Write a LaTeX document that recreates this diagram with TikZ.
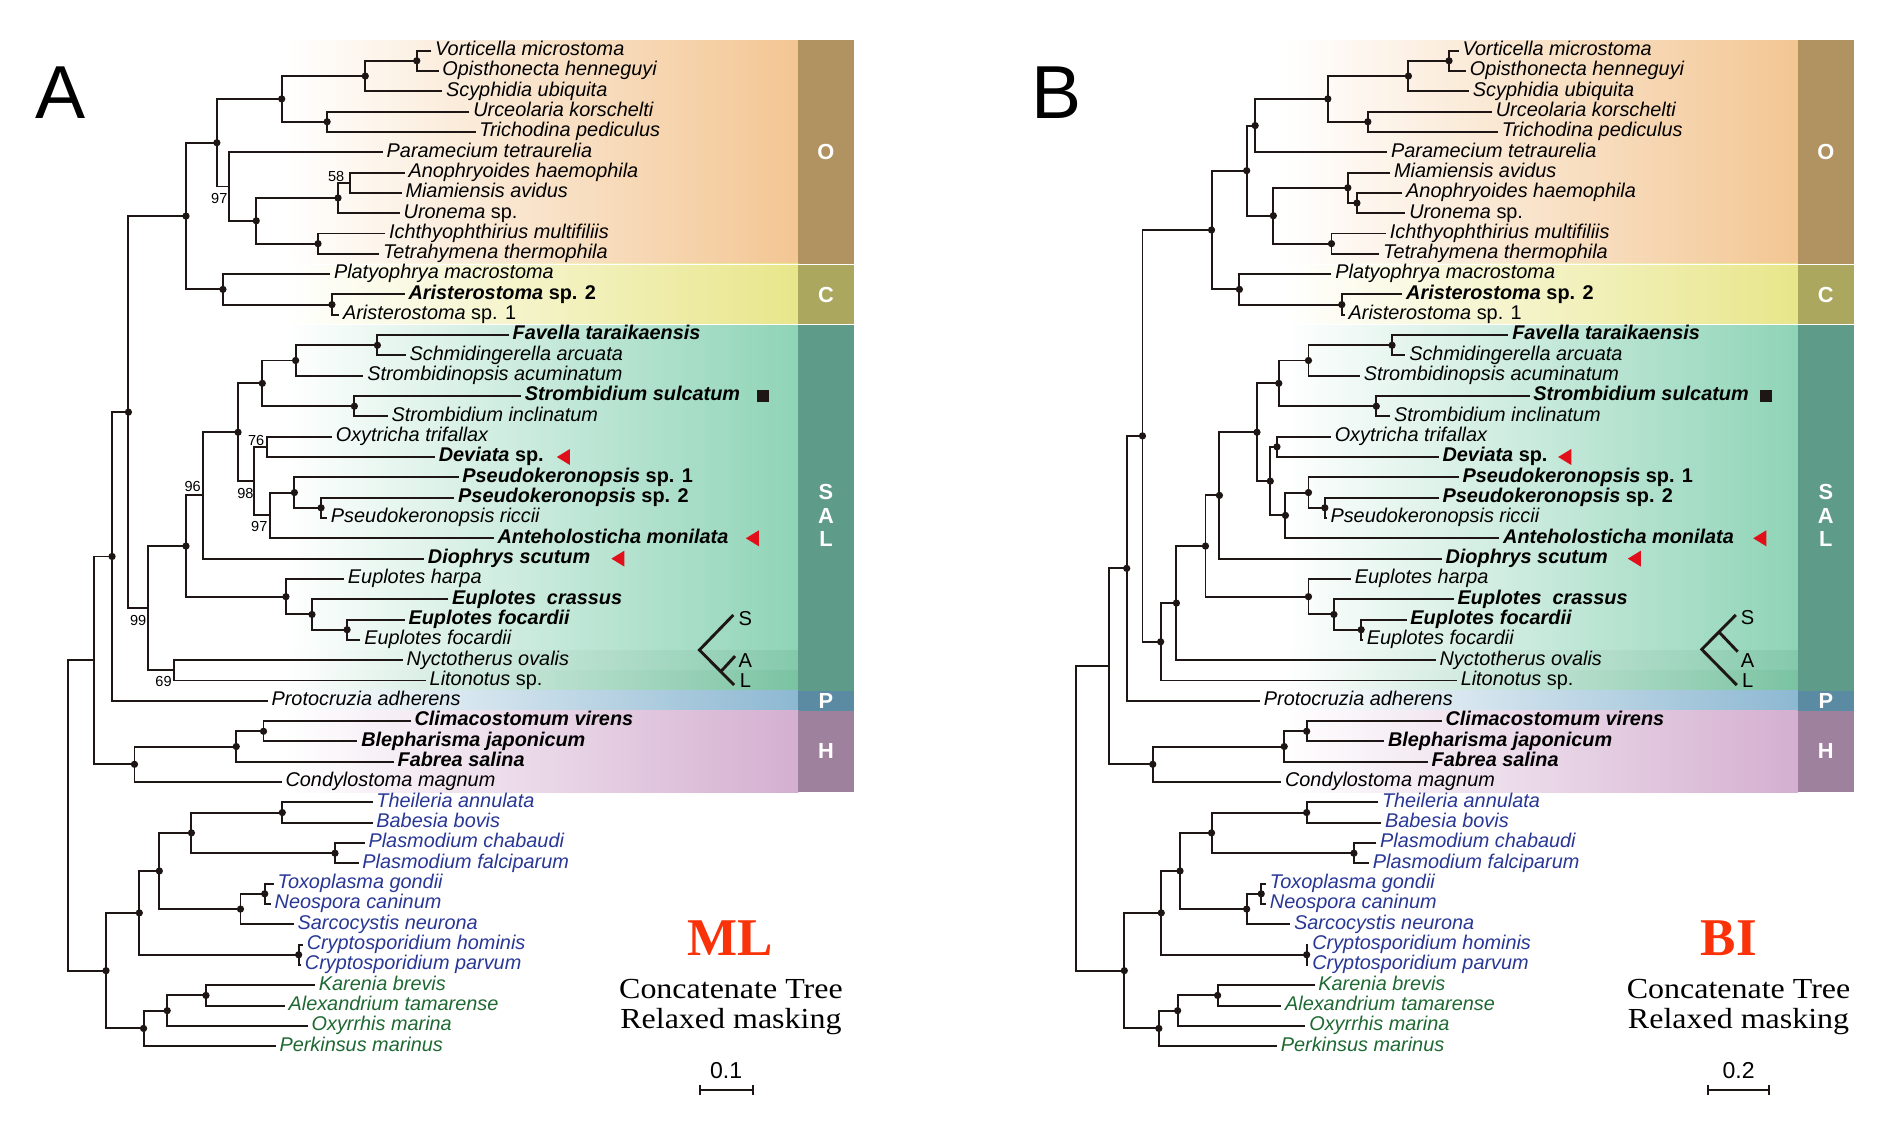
\documentclass[tikz,border=0pt]{standalone}
\usepackage{fontspec}
\setmainfont{Liberation Sans}
\newfontfamily\serifnt{Liberation Serif}
\usepackage{graphicx}

\definecolor{linec}{RGB}{30,22,20}
\definecolor{Ograd}{RGB}{243,198,147}
\definecolor{Obar}{RGB}{176,147,96}
\definecolor{Cgrad}{RGB}{232,230,138}
\definecolor{Cbar}{RGB}{171,167,94}
\definecolor{Sgrad}{RGB}{143,212,183}
\definecolor{Sbar}{RGB}{95,155,137}
\definecolor{Agrad}{RGB}{132,201,171}
\definecolor{Lgrad}{RGB}{122,195,162}
\definecolor{Pgrad}{RGB}{141,184,210}
\definecolor{Pbar}{RGB}{91,139,163}
\definecolor{Hgrad}{RGB}{212,175,208}
\definecolor{Hbar}{RGB}{158,129,157}
\definecolor{apiblue}{RGB}{40,55,150}
\definecolor{dinogreen}{RGB}{30,105,50}
\definecolor{mlred}{RGB}{250,50,10}
\definecolor{trired}{RGB}{225,15,25}

\newcommand{\kids}[3]{\draw[brl] (#2) -| (#1.center) |- (#3);}
\newcommand{\rtri}[3]{\node[inner sep=0pt,minimum width=5pt,minimum height=6.2pt] (#1) at (#2,#3) {};
  \fill[trired] (#1.west) -- (#1.north east) -- (#1.south east) -- cycle;}

\begin{document}
\begin{tikzpicture}[x=0.5pt,y=-0.5pt,
  lab/.style={anchor=west,inner xsep=1.4pt,inner ysep=0pt,text height=4pt,text depth=0pt,
    font=\fontsize{8.2}{9}\selectfont\itshape},
  labb/.style={lab,font=\fontsize{8.2}{9}\selectfont\bfseries\itshape},
  api/.style={lab,text=apiblue},
  dino/.style={lab,text=dinogreen},
  ndot/.style={circle,fill=linec,inner sep=0pt,minimum size=3pt},
  brl/.style={draw=linec,line width=0.8pt},
  boot/.style={inner sep=0pt,font=\fontsize{6}{6}\selectfont},
  bandlab/.style={inner sep=0pt,text=white,font=\fontsize{9}{9}\selectfont\bfseries},
  glyl/.style={inner sep=0pt,font=\fontsize{8.3}{9}\selectfont},
  gly/.style={draw=linec,line width=1.2pt},
  panel/.style={inner sep=0pt,font=\fontsize{31}{31}\selectfont},
  method/.style={anchor=base,text=mlred,font=\serifnt\bfseries\fontsize{21.9}{22}\selectfont},
  capt/.style={anchor=base,font=\serifnt\fontsize{12}{13}\selectfont},
  scl/.style={anchor=base,inner sep=0pt,font=\fontsize{9.5}{10}\selectfont},
  sbar/.style={draw=linec,line width=0.8pt}]
\useasboundingbox (0,0) rectangle (1560,931.07);
\fill[white] (0,0) rectangle (1560,931.07);

% ===================== bands (row units) =====================
\begin{scope}[y=-8.385pt,yshift=-12.515pt]
% panel A
\shade[left color=white,right color=Ograd] (235,0.5) rectangle (659,11.5);
\fill[Obar] (659,0.5) rectangle (704.5,11.5);
\shade[left color=white,right color=Cgrad] (235,11.5) rectangle (659,14.5);
\fill[Cbar] (659,11.5) rectangle (704.5,14.5);
\shade[left color=white,right color=Sgrad] (235,14.5) rectangle (659,30.5);
\shade[left color=white,right color=Agrad] (235,30.5) rectangle (659,31.5);
\shade[left color=white,right color=Lgrad] (235,31.5) rectangle (659,32.5);
\fill[Sbar] (659,14.5) rectangle (704.5,32.5);
\shade[left color=white,right color=Pgrad] (235,32.5) rectangle (659,33.5);
\fill[Pbar] (659,32.5) rectangle (704.5,33.5);
\shade[left color=white,right color=Hgrad] (235,33.5) rectangle (659,37.5);
\fill[Hbar] (659,33.5) rectangle (704.5,37.5);
\draw[white,line width=0.4pt] (235,11.5) -- (704.5,11.5) (235,14.5) -- (704.5,14.5);
% panel B
\shade[left color=white,right color=Ograd] (1060,0.5) rectangle (1484,11.5);
\fill[Obar] (1484,0.5) rectangle (1530,11.5);
\shade[left color=white,right color=Cgrad] (1060,11.5) rectangle (1484,14.5);
\fill[Cbar] (1484,11.5) rectangle (1530,14.5);
\shade[left color=white,right color=Sgrad] (1060,14.5) rectangle (1484,30.5);
\shade[left color=white,right color=Agrad] (1060,30.5) rectangle (1484,31.5);
\shade[left color=white,right color=Lgrad] (1060,31.5) rectangle (1484,32.5);
\fill[Sbar] (1484,14.5) rectangle (1530,32.5);
\shade[left color=white,right color=Pgrad] (1060,32.5) rectangle (1484,33.5);
\fill[Pbar] (1484,32.5) rectangle (1530,33.5);
\shade[left color=white,right color=Hgrad] (1060,33.5) rectangle (1484,37.5);
\fill[Hbar] (1484,33.5) rectangle (1530,37.5);
\draw[white,line width=0.4pt] (1060,11.5) -- (1530,11.5) (1060,14.5) -- (1530,14.5);

% ===================== tree A =====================
\node[lab] (ta1) at (356,1) {Vorticella microstoma};
\node[lab] (ta2) at (362,2) {Opisthonecta henneguyi};
\node[lab] (ta3) at (365,3) {Scyphidia ubiquita};
\node[lab] (ta4) at (387.5,4) {Urceolaria korschelti};
\node[lab] (ta5) at (392.5,5) {Trichodina pediculus};
\node[lab] (ta6) at (316,6) {Paramecium tetraurelia};
\node[lab] (ta7) at (334,7) {Anophryoides haemophila};
\node[lab] (ta8) at (331.5,8) {Miamiensis avidus};
\node[lab] (ta9) at (330,9) {Uronema \textup{sp.}};
\node[lab] (ta10) at (318,10) {Ichthyophthirius multifiliis};
\node[lab] (ta11) at (313,11) {Tetrahymena thermophila};
\node[lab] (ta12) at (272.5,12) {Platyophrya macrostoma};
\node[labb] (ta13) at (334,13) {Aristerostoma \textup{sp. 2}};
\node[lab] (ta14) at (280,14) {Aristerostoma \textup{sp. 1}};
\node[labb] (ta15) at (420,15) {Favella taraikaensis};
\node[lab] (ta16) at (335,16) {Schmidingerella arcuata};
\node[lab] (ta17) at (300,17) {Strombidinopsis acuminatum};
\node[labb] (ta18) at (430,18) {Strombidium sulcatum};
\node[lab] (ta19) at (320,19) {Strombidium inclinatum};
\node[lab] (ta20) at (274,20) {Oxytricha trifallax};
\node[labb] (ta21) at (359,21) {Deviata \textup{sp.}};
\node[labb] (ta22) at (378.5,22) {Pseudokeronopsis \textup{sp. 1}};
\node[labb] (ta23) at (375,23) {Pseudokeronopsis \textup{sp. 2}};
\node[lab] (ta24) at (270,24) {Pseudokeronopsis riccii};
\node[labb] (ta25) at (407.5,25) {Anteholosticha monilata};
\node[labb] (ta26) at (350,26) {Diophrys scutum};
\node[lab] (ta27) at (284,27) {Euplotes harpa};
\node[labb] (ta28) at (370,28) {Euplotes\hspace{0.55em}crassus};
\node[labb] (ta29) at (334,29) {Euplotes focardii};
\node[lab] (ta30) at (297.5,30) {Euplotes focardii};
\node[lab] (ta31) at (332.5,31) {Nyctotherus ovalis};
\node[lab] (ta32) at (351.5,32) {Litonotus \textup{sp.}};
\node[lab] (ta33) at (221,33) {Protocruzia adherens};
\node[labb] (ta34) at (339,34) {Climacostomum virens};
\node[labb] (ta35) at (295,35) {Blepharisma japonicum};
\node[labb] (ta36) at (325,36) {Fabrea salina};
\node[lab] (ta37) at (232.5,37) {Condylostoma magnum};
\node[api] (ta38) at (307.5,38) {Theileria annulata};
\node[api] (ta39) at (307.5,39) {Babesia bovis};
\node[api] (ta40) at (301,40) {Plasmodium chabaudi};
\node[api] (ta41) at (296,41) {Plasmodium falciparum};
\node[api] (ta42) at (226,42) {Toxoplasma gondii};
\node[api] (ta43) at (223.5,43) {Neospora caninum};
\node[api] (ta44) at (242.5,44) {Sarcocystis neurona};
\node[api] (ta45) at (250,45) {Cryptosporidium hominis};
\node[api] (ta46) at (248.5,46) {Cryptosporidium parvum};
\node[dino] (ta47) at (260,47) {Karenia brevis};
\node[dino] (ta48) at (235,48) {Alexandrium tamarense};
\node[dino] (ta49) at (254,49) {Oxyrrhis marina};
\node[dino] (ta50) at (227.5,50) {Perkinsus marinus};

\node[ndot] (a_vo) at (344,1.5) {};
\node[ndot] (a_vos) at (301.5,2.25) {};
\node[ndot] (a_ut) at (270,4.5) {};
\node[ndot] (a_peri) at (232.5,3.375) {};
\coordinate (a_58) at (289,7.5);
\node[ndot] (a_scu) at (279,8.25) {};
\node[ndot] (a_it) at (262.5,10.5) {};
\node[ndot] (a_hym) at (211.5,9.375) {};
\coordinate (a_97) at (189,7.6875);
\node[ndot] (a_oligo) at (179,5.53125) {};
\node[ndot] (a_ar) at (274,13.5) {};
\node[ndot] (a_col) at (184,12.75) {};
\node[ndot] (a_OC) at (153.5,9.1406) {};
\node[ndot] (a_fs) at (311.5,15.5) {};
\node[ndot] (a_fss) at (244,16.25) {};
\node[ndot] (a_str) at (292.5,18.5) {};
\node[ndot] (a_olig) at (216.5,17.375) {};
\coordinate (a_76) at (220,20.5);
\node[ndot] (a_ps2) at (265,23.5) {};
\node[ndot] (a_ps) at (243,22.75) {};
\coordinate (a_97b) at (222.5,23.875);
\coordinate (a_98) at (210,22.1875);
\node[ndot] (a_spiro) at (196.5,19.78125) {};
\coordinate (a_96) at (167.5,22.890625);
\node[ndot] (a_ef) at (286.5,29.5) {};
\node[ndot] (a_ecf) at (257.5,28.75) {};
\node[ndot] (a_eu) at (236,27.875) {};
\node[ndot] (a_sal) at (153.5,25.3828) {};
\coordinate (a_69) at (143.5,31.5);
\coordinate (a_99) at (122.5,28.4414);
\node[ndot] (a_ocsal) at (106,18.791) {};
\node[ndot] (a_cil1) at (92.5,25.8955) {};
\node[ndot] (a_cb) at (217.5,34.5) {};
\node[ndot] (a_cbf) at (195,35.25) {};
\node[ndot] (a_het) at (111,36.125) {};
\coordinate (a_cil) at (77.5,31.0103);
\node[ndot] (a_tb) at (233,38.5) {};
\node[ndot] (a_pl) at (276.5,40.5) {};
\node[ndot] (a_pir) at (158,39.5) {};
\node[ndot] (a_tn) at (218.5,42.5) {};
\node[ndot] (a_sarc) at (198.5,43.25) {};
\node[ndot] (a_coc) at (131.5,41.375) {};
\node[ndot] (a_cr) at (246.5,45.5) {};
\node[ndot] (a_api) at (115,43.4375) {};
\node[ndot] (a_ka) at (170,47.5) {};
\node[ndot] (a_dox) at (138,48.25) {};
\node[ndot] (a_din) at (118.5,49.125) {};
\node[ndot] (a_alv) at (87.5,46.28125) {};
\coordinate (a_root) at (56.5,38.6458);

\kids{a_vo}{ta1.west}{ta2.west}
\kids{a_vos}{a_vo.center}{ta3.west}
\kids{a_ut}{ta4.west}{ta5.west}
\kids{a_peri}{a_vos.center}{a_ut.center}
\kids{a_58}{ta7.west}{ta8.west}
\kids{a_scu}{a_58}{ta9.west}
\kids{a_it}{ta10.west}{ta11.west}
\kids{a_hym}{a_scu.center}{a_it.center}
\kids{a_97}{ta6.west}{a_hym.center}
\kids{a_oligo}{a_peri.center}{a_97}
\kids{a_ar}{ta13.west}{ta14.west}
\kids{a_col}{ta12.west}{a_ar.center}
\kids{a_OC}{a_oligo.center}{a_col.center}
\kids{a_fs}{ta15.west}{ta16.west}
\kids{a_fss}{a_fs.center}{ta17.west}
\kids{a_str}{ta18.west}{ta19.west}
\kids{a_olig}{a_fss.center}{a_str.center}
\kids{a_76}{ta20.west}{ta21.west}
\kids{a_ps2}{ta23.west}{ta24.west}
\kids{a_ps}{ta22.west}{a_ps2.center}
\kids{a_97b}{a_ps.center}{ta25.west}
\kids{a_98}{a_76}{a_97b}
\kids{a_spiro}{a_olig.center}{a_98}
\kids{a_96}{a_spiro.center}{ta26.west}
\kids{a_ef}{ta29.west}{ta30.west}
\kids{a_ecf}{ta28.west}{a_ef.center}
\kids{a_eu}{ta27.west}{a_ecf.center}
\kids{a_sal}{a_96}{a_eu.center}
\kids{a_69}{ta31.west}{ta32.west}
\kids{a_99}{a_sal.center}{a_69}
\kids{a_ocsal}{a_OC.center}{a_99}
\kids{a_cil1}{a_ocsal.center}{ta33.west}
\kids{a_cb}{ta34.west}{ta35.west}
\kids{a_cbf}{a_cb.center}{ta36.west}
\kids{a_het}{a_cbf.center}{ta37.west}
\kids{a_cil}{a_cil1.center}{a_het.center}
\kids{a_tb}{ta38.west}{ta39.west}
\kids{a_pl}{ta40.west}{ta41.west}
\kids{a_pir}{a_tb.center}{a_pl.center}
\kids{a_tn}{ta42.west}{ta43.west}
\kids{a_sarc}{a_tn.center}{ta44.west}
\kids{a_coc}{a_pir.center}{a_sarc.center}
\kids{a_cr}{ta45.west}{ta46.west}
\kids{a_api}{a_coc.center}{a_cr.center}
\kids{a_ka}{ta47.west}{ta48.west}
\kids{a_dox}{a_ka.center}{ta49.west}
\kids{a_din}{a_dox.center}{ta50.west}
\kids{a_alv}{a_api.center}{a_din.center}
\kids{a_root}{a_cil}{a_alv.center}

% ===================== tree B =====================
\node[lab] (tb1) at (1204,1) {Vorticella microstoma};
\node[lab] (tb2) at (1210,2) {Opisthonecta henneguyi};
\node[lab] (tb3) at (1212.5,3) {Scyphidia ubiquita};
\node[lab] (tb4) at (1231.5,4) {Urceolaria korschelti};
\node[lab] (tb5) at (1236.5,5) {Trichodina pediculus};
\node[lab] (tb6) at (1145,6) {Paramecium tetraurelia};
\node[lab] (tb7) at (1147.5,7) {Miamiensis avidus};
\node[lab] (tb8) at (1157.5,8) {Anophryoides haemophila};
\node[lab] (tb9) at (1160,9) {Uronema \textup{sp.}};
\node[lab] (tb10) at (1144,10) {Ichthyophthirius multifiliis};
\node[lab] (tb11) at (1138.5,11) {Tetrahymena thermophila};
\node[lab] (tb12) at (1099,12) {Platyophrya macrostoma};
\node[labb] (tb13) at (1157.5,13) {Aristerostoma \textup{sp. 2}};
\node[lab] (tb14) at (1110,14) {Aristerostoma \textup{sp. 1}};
\node[labb] (tb15) at (1245,15) {Favella taraikaensis};
\node[lab] (tb16) at (1160,16) {Schmidingerella arcuata};
\node[lab] (tb17) at (1122.5,17) {Strombidinopsis acuminatum};
\node[labb] (tb18) at (1262.5,18) {Strombidium sulcatum};
\node[lab] (tb19) at (1147.5,19) {Strombidium inclinatum};
\node[lab] (tb20) at (1098.5,20) {Oxytricha trifallax};
\node[labb] (tb21) at (1187.5,21) {Deviata \textup{sp.}};
\node[labb] (tb22) at (1204,22) {Pseudokeronopsis \textup{sp. 1}};
\node[labb] (tb23) at (1187.5,23) {Pseudokeronopsis \textup{sp. 2}};
\node[lab] (tb24) at (1095,24) {Pseudokeronopsis riccii};
\node[labb] (tb25) at (1237.5,25) {Anteholosticha monilata};
\node[labb] (tb26) at (1190,26) {Diophrys scutum};
\node[lab] (tb27) at (1115,27) {Euplotes harpa};
\node[labb] (tb28) at (1200,28) {Euplotes\hspace{0.55em}crassus};
\node[labb] (tb29) at (1161,29) {Euplotes focardii};
\node[lab] (tb30) at (1125,30) {Euplotes focardii};
\node[lab] (tb31) at (1185,31) {Nyctotherus ovalis};
\node[lab] (tb32) at (1202.5,32) {Litonotus \textup{sp.}};
\node[lab] (tb33) at (1040,33) {Protocruzia adherens};
\node[labb] (tb34) at (1190,34) {Climacostomum virens};
\node[labb] (tb35) at (1142.5,35) {Blepharisma japonicum};
\node[labb] (tb36) at (1178.5,36) {Fabrea salina};
\node[lab] (tb37) at (1057.5,37) {Condylostoma magnum};
\node[api] (tb38) at (1137.5,38) {Theileria annulata};
\node[api] (tb39) at (1140,39) {Babesia bovis};
\node[api] (tb40) at (1136,40) {Plasmodium chabaudi};
\node[api] (tb41) at (1130,41) {Plasmodium falciparum};
\node[api] (tb42) at (1045,42) {Toxoplasma gondii};
\node[api] (tb43) at (1045,43) {Neospora caninum};
\node[api] (tb44) at (1065,44) {Sarcocystis neurona};
\node[api] (tb45) at (1080,45) {Cryptosporidium hominis};
\node[api] (tb46) at (1080,46) {Cryptosporidium parvum};
\node[dino] (tb47) at (1085,47) {Karenia brevis};
\node[dino] (tb48) at (1057.5,48) {Alexandrium tamarense};
\node[dino] (tb49) at (1077.5,49) {Oxyrrhis marina};
\node[dino] (tb50) at (1054,50) {Perkinsus marinus};

\node[ndot] (b_vo) at (1196,1.5) {};
\node[ndot] (b_vos) at (1162.5,2.25) {};
\node[ndot] (b_ut) at (1129,4.5) {};
\node[ndot] (b_peri) at (1096,3.375) {};
\node[ndot] (b_pp) at (1036,4.6875) {};
\node[ndot] (b_au) at (1120,8.5) {};
\node[ndot] (b_scu) at (1112.5,7.75) {};
\node[ndot] (b_it) at (1099,10.5) {};
\node[ndot] (b_hym) at (1051,9.125) {};
\node[ndot] (b_oligo) at (1029,6.90625) {};
\node[ndot] (b_ar) at (1107.5,13.5) {};
\node[ndot] (b_col) at (1023,12.75) {};
\node[ndot] (b_OC) at (1000,9.828) {};
\node[ndot] (b_fs) at (1149,15.5) {};
\node[ndot] (b_fss) at (1080,16.25) {};
\node[ndot] (b_str) at (1136,18.5) {};
\node[ndot] (b_olig) at (1055.5,17.375) {};
\node[ndot] (b_od) at (1054,20.5) {};
\node[ndot] (b_ps2) at (1093.5,23.5) {};
\node[ndot] (b_ps) at (1080,22.75) {};
\node[ndot] (b_psa) at (1061,23.875) {};
\node[ndot] (b_hyp) at (1048.5,22.1875) {};
\node[ndot] (b_spiro) at (1037.5,19.78125) {};
\node[ndot] (b_sd) at (1006.5,22.890625) {};
\node[ndot] (b_ef) at (1123.5,29.5) {};
\node[ndot] (b_ecf) at (1101,28.75) {};
\node[ndot] (b_eu) at (1080,27.875) {};
\node[ndot] (b_sal) at (995,25.383) {};
\node[ndot] (b_sa) at (971,28.19) {};
\node[ndot] (b_sal2) at (958,30.096) {};
\node[ndot] (b_ocsal) at (943,19.962) {};
\node[ndot] (b_cil1) at (930,26.481) {};
\node[ndot] (b_cb) at (1078.5,34.5) {};
\node[ndot] (b_cbf) at (1060,35.25) {};
\node[ndot] (b_het) at (951.5,36.125) {};
\coordinate (b_cil) at (915,31.303);
\node[ndot] (b_tb) at (1078.5,38.5) {};
\node[ndot] (b_pl) at (1117.5,40.5) {};
\node[ndot] (b_pir) at (1000,39.5) {};
\node[ndot] (b_tn) at (1041,42.5) {};
\node[ndot] (b_sarc) at (1029,43.25) {};
\node[ndot] (b_coc) at (974,41.375) {};
\node[ndot] (b_cr) at (1078.5,45.5) {};
\node[ndot] (b_api) at (958.5,43.4375) {};
\node[ndot] (b_ka) at (1005,47.5) {};
\node[ndot] (b_dox) at (972,48.25) {};
\node[ndot] (b_din) at (956.5,49.125) {};
\node[ndot] (b_alv) at (928,46.281) {};
\coordinate (b_root) at (888.5,38.792);

\kids{b_vo}{tb1.west}{tb2.west}
\kids{b_vos}{b_vo.center}{tb3.west}
\kids{b_ut}{tb4.west}{tb5.west}
\kids{b_peri}{b_vos.center}{b_ut.center}
\kids{b_pp}{b_peri.center}{tb6.west}
\kids{b_au}{tb8.west}{tb9.west}
\kids{b_scu}{tb7.west}{b_au.center}
\kids{b_it}{tb10.west}{tb11.west}
\kids{b_hym}{b_scu.center}{b_it.center}
\kids{b_oligo}{b_pp.center}{b_hym.center}
\kids{b_ar}{tb13.west}{tb14.west}
\kids{b_col}{tb12.west}{b_ar.center}
\kids{b_OC}{b_oligo.center}{b_col.center}
\kids{b_fs}{tb15.west}{tb16.west}
\kids{b_fss}{b_fs.center}{tb17.west}
\kids{b_str}{tb18.west}{tb19.west}
\kids{b_olig}{b_fss.center}{b_str.center}
\kids{b_od}{tb20.west}{tb21.west}
\kids{b_ps2}{tb23.west}{tb24.west}
\kids{b_ps}{tb22.west}{b_ps2.center}
\kids{b_psa}{b_ps.center}{tb25.west}
\kids{b_hyp}{b_od.center}{b_psa.center}
\kids{b_spiro}{b_olig.center}{b_hyp.center}
\kids{b_sd}{b_spiro.center}{tb26.west}
\kids{b_ef}{tb29.west}{tb30.west}
\kids{b_ecf}{tb28.west}{b_ef.center}
\kids{b_eu}{tb27.west}{b_ecf.center}
\kids{b_sal}{b_sd.center}{b_eu.center}
\kids{b_sa}{b_sal.center}{tb31.west}
\kids{b_sal2}{b_sa.center}{tb32.west}
\kids{b_ocsal}{b_OC.center}{b_sal2.center}
\kids{b_cil1}{b_ocsal.center}{tb33.west}
\kids{b_cb}{tb34.west}{tb35.west}
\kids{b_cbf}{b_cb.center}{tb36.west}
\kids{b_het}{b_cbf.center}{tb37.west}
\kids{b_cil}{b_cil1.center}{b_het.center}
\kids{b_tb}{tb38.west}{tb39.west}
\kids{b_pl}{tb40.west}{tb41.west}
\kids{b_pir}{b_tb.center}{b_pl.center}
\kids{b_tn}{tb42.west}{tb43.west}
\kids{b_sarc}{b_tn.center}{tb44.west}
\kids{b_coc}{b_pir.center}{b_sarc.center}
\kids{b_cr}{tb45.west}{tb46.west}
\kids{b_api}{b_coc.center}{b_cr.center}
\kids{b_ka}{tb47.west}{tb48.west}
\kids{b_dox}{b_ka.center}{tb49.west}
\kids{b_din}{b_dox.center}{tb50.west}
\kids{b_alv}{b_api.center}{b_din.center}
\kids{b_root}{b_cil}{b_alv.center}
\end{scope}

% ===================== band letters =====================
\foreach \bx/\nm in {681.75/A,1507/B}{
  \node[bandlab] (O\nm) at (\bx,125.5) {O};
  \node[bandlab] (C\nm) at (\bx,243.5) {C};
  \node[bandlab] (S\nm) at (\bx,406) {S};
  \node[bandlab] (A\nm) at (\bx,425.5) {A};
  \node[bandlab] (L\nm) at (\bx,445) {L};
  \node[bandlab] (P\nm) at (\bx,578.4) {P};
  \node[bandlab] (H\nm) at (\bx,620) {H};
}

% ===================== bootstrap values (ML) =====================
\node[boot] (bs1) at (181,164.2) {97};
\node[boot] (bs2) at (277.5,145.8) {58};
\node[boot] (bs3) at (211.5,363.2) {76};
\node[boot] (bs4) at (202.5,407.2) {98};
\node[boot] (bs5) at (214,434.7) {97};
\node[boot] (bs6) at (159,401.2) {96};
\node[boot] (bs7) at (114,511.8) {99};
\node[boot] (bs8) at (135,562.7) {69};

% ===================== markers =====================
\node[fill=linec,inner sep=0pt,minimum size=5pt] (sqA) at (630,326.9) {};
\node[fill=linec,inner sep=0pt,minimum size=5pt] (sqB) at (1458,326.9) {};
\rtri{trA1}{465}{377.2}
\rtri{trA2}{621}{444.3}
\rtri{trA3}{510}{461.1}
\rtri{trB1}{1291.5}{377.2}
\rtri{trB2}{1452.5}{444.3}
\rtri{trB3}{1349}{461.1}

% ===================== S/A/L glyphs =====================
\coordinate (gA_v) at (577.3,536.5);
\coordinate (gA_s) at (605.3,507.6);
\coordinate (gA_l) at (605.9,565.4);
\coordinate (gA_b) at (594.9,554.4);
\coordinate (gA_a) at (606.7,541.5);
\draw[gly] (gA_s) -- (gA_v) -- (gA_l);
\draw[gly] (gA_b) -- (gA_a);
\node[glyl] (gA_S) at (615.2,510.6) {S};
\node[glyl] (gA_A) at (615.2,545.5) {A};
\node[glyl] (gA_L) at (615.2,562) {L};
\coordinate (gB_v) at (1404.6,536);
\coordinate (gB_s) at (1432.7,507.6);
\coordinate (gB_l) at (1433.5,565.4);
\coordinate (gB_b) at (1418.9,521.7);
\coordinate (gB_a) at (1434.3,537.9);
\draw[gly] (gB_s) -- (gB_v) -- (gB_l);
\draw[gly] (gB_b) -- (gB_a);
\node[glyl] (gB_S) at (1442.5,509.6) {S};
\node[glyl] (gB_A) at (1442.5,545.6) {A};
\node[glyl] (gB_L) at (1442.5,562) {L};

% ===================== panel letters & captions =====================
\node[panel] (pA) at (50,76.5) {A};
\node[panel] (pB) at (872,76.5) {B};

\node[method] (mA) at (602.6,788.3) {ML};
\node[capt] (cA1) at (603.3,824) {\scalebox{1.1}[1]{Concatenate Tree}};
\node[capt] (cA2) at (603.3,848.8) {\scalebox{1.1}[1]{Relaxed masking}};
\node[scl] (sA) at (599.3,890) {0.1};
\coordinate (sA1) at (577.8,899.7);
\coordinate (sA2) at (621.3,899.7);
\draw[sbar] (sA1) -- (sA2);
\draw[sbar] ([yshift=-2pt]sA1) -- ([yshift=2pt]sA1);
\draw[sbar] ([yshift=-2pt]sA2) -- ([yshift=2pt]sA2);

\node[method] (mB) at (1427,788.3) {BI};
\node[capt] (cB1) at (1435,824) {\scalebox{1.1}[1]{Concatenate Tree}};
\node[capt] (cB2) at (1435,848.8) {\scalebox{1.1}[1]{Relaxed masking}};
\node[scl] (sB) at (1435,890) {0.2};
\coordinate (sB1) at (1409.5,899.7);
\coordinate (sB2) at (1460.5,899.7);
\draw[sbar] (sB1) -- (sB2);
\draw[sbar] ([yshift=-2pt]sB1) -- ([yshift=2pt]sB1);
\draw[sbar] ([yshift=-2pt]sB2) -- ([yshift=2pt]sB2);
\end{tikzpicture}
\end{document}
